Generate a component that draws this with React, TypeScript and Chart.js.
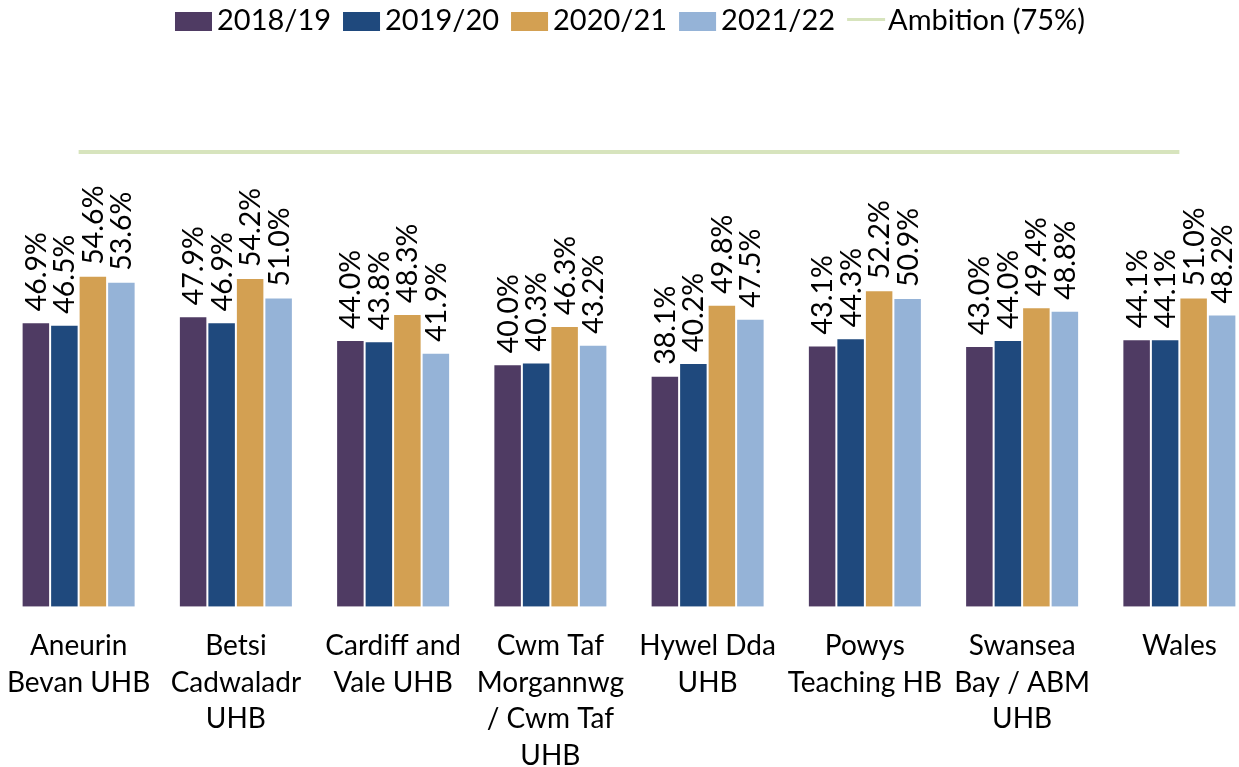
import React, { useEffect, useRef } from "react";
import { Chart, registerables } from "chart.js";

Chart.register(...registerables);

const categories: string[][] = [
  ["Aneurin", "Bevan UHB"],
  ["Betsi", "Cadwaladr", "UHB"],
  ["Cardiff and", "Vale UHB"],
  ["Cwm Taf", "Morgannwg", "/ Cwm Taf", "UHB"],
  ["Hywel Dda", "UHB"],
  ["Powys", "Teaching HB"],
  ["Swansea", "Bay / ABM", "UHB"],
  ["Wales"],
];

const seriesLabels = ["2018/19", "2019/20", "2020/21", "2021/22"];
const v2018 = [46.9, 47.9, 44.0, 40.0, 38.1, 43.1, 43.0, 44.1];
const v2019 = [46.5, 46.9, 43.8, 40.3, 40.2, 44.3, 44.0, 44.1];
const v2020 = [54.6, 54.2, 48.3, 46.3, 49.8, 52.2, 49.4, 51.0];
const v2021 = [53.6, 51.0, 41.9, 43.2, 47.5, 50.9, 48.8, 48.2];
const ambitionLabel = "Ambition (75%)";
const ambition = [75, 75, 75, 75, 75, 75, 75, 75];

const colors = ["#4F3B63", "#1F497D", "#D3A052", "#95B3D7"];
const lineColor = "#D7E4BD";
const FONT = "Lato, 'Open Sans', sans-serif";

const labelPlugin = {
  id: "barLabels",
  afterDatasetsDraw(chart: any) {
    const ctx = chart.ctx;
    ctx.save();
    ctx.font = `28.5px ${FONT}`;
    ctx.fillStyle = "#000";
    ctx.textAlign = "left";
    ctx.textBaseline = "alphabetic";
    chart.data.datasets.forEach((ds: any, i: number) => {
      if (ds.type === "line") return;
      const meta = chart.getDatasetMeta(i);
      meta.data.forEach((el: any, j: number) => {
        const v = ds.data[j];
        ctx.save();
        ctx.translate(el.x + 10, el.y - 11);
        ctx.rotate(-Math.PI / 2);
        ctx.fillText(v.toFixed(1) + "%", 0, 0);
        ctx.restore();
      });
    });
    ctx.restore();
  },
};

const legendPlugin = {
  id: "customLegend",
  afterDraw(chart: any) {
    const ctx = chart.ctx;
    ctx.save();
    ctx.font = `29px ${FONT}`;
    ctx.textBaseline = "alphabetic";
    ctx.textAlign = "left";
    const items = chart.data.datasets.map((ds: any) => ({
      text: ds.label,
      isLine: ds.type === "line",
      color: ds.type === "line" ? ds.borderColor : ds.backgroundColor,
    }));
    const boxW = 37;
    const widths = items.map((it: any) => {
      const tw = ctx.measureText(it.text).width;
      return it.isLine ? 38 + 3 + tw : boxW + 5 + tw;
    });
    const gap = 12;
    const total = widths.reduce((a: number, b: number) => a + b, 0) + gap * (items.length - 1);
    let x = chart.width / 2 - total / 2 + 1;
    const baseY = 30;
    items.forEach((it: any, k: number) => {
      if (it.isLine) {
        ctx.strokeStyle = it.color;
        ctx.lineWidth = 3;
        ctx.beginPath();
        ctx.moveTo(x, 19.5);
        ctx.lineTo(x + 38, 19.5);
        ctx.stroke();
        ctx.fillStyle = "#000";
        ctx.fillText(it.text, x + 41, baseY);
      } else {
        ctx.fillStyle = it.color;
        ctx.fillRect(x, 12, boxW, 19);
        ctx.fillStyle = "#000";
        ctx.fillText(it.text, x + boxW + 5, baseY);
      }
      x += widths[k] + gap;
    });
    ctx.restore();
  },
};

export default function App() {
  const ref = useRef<HTMLCanvasElement | null>(null);
  useEffect(() => {
    if (!ref.current) return;
    const barSets = [v2018, v2019, v2020, v2021].map((d, i) => ({
      type: "bar" as const,
      label: seriesLabels[i],
      data: d,
      backgroundColor: colors[i],
      borderColor: "rgba(255,255,255,0.35)",
      borderWidth: 1,
      borderSkipped: "bottom" as const,
      categoryPercentage: 0.725,
      barPercentage: 1,
      order: 2,
    }));
    const chart = new Chart(ref.current, {
      type: "bar",
      data: {
        labels: categories as any,
        datasets: [
          ...barSets,
          {
            type: "line" as const,
            label: ambitionLabel,
            data: ambition,
            borderColor: lineColor,
            backgroundColor: lineColor,
            borderWidth: 4,
            pointRadius: 0,
            pointHoverRadius: 0,
            fill: false,
            order: 1,
          } as any,
        ],
      },
      options: {
        responsive: false,
        animation: false,
        events: [],
        layout: { padding: { top: 121.7, left: 0, right: 0, bottom: 0 } },
        plugins: {
          legend: { display: false },
          tooltip: { enabled: false },
        },
        scales: {
          x: {
            grid: { display: false, drawTicks: false },
            border: { display: false },
            ticks: {
              autoSkip: false,
              maxRotation: 0,
              minRotation: 0,
              padding: 21,
              color: "#000",
              font: { family: FONT, size: 28, lineHeight: 1.31 },
            },
            afterFit: (scale: any) => {
              scale.height = 160.3;
              scale.paddingLeft = 0;
              scale.paddingRight = 0;
            },
          },
          y: {
            display: false,
            min: 0,
            max: 80,
          },
        },
      },
      plugins: [labelPlugin, legendPlugin],
    });
    return () => chart.destroy();
  }, []);
  return (
    <div
      style={{
        position: "fixed",
        left: 0,
        top: 0,
        width: 1239,
        height: 767,
        overflow: "hidden",
        background: "#fff",
      }}
    >
      <canvas ref={ref} width={1258} height={767} style={{ display: "block" }} />
    </div>
  );
}
